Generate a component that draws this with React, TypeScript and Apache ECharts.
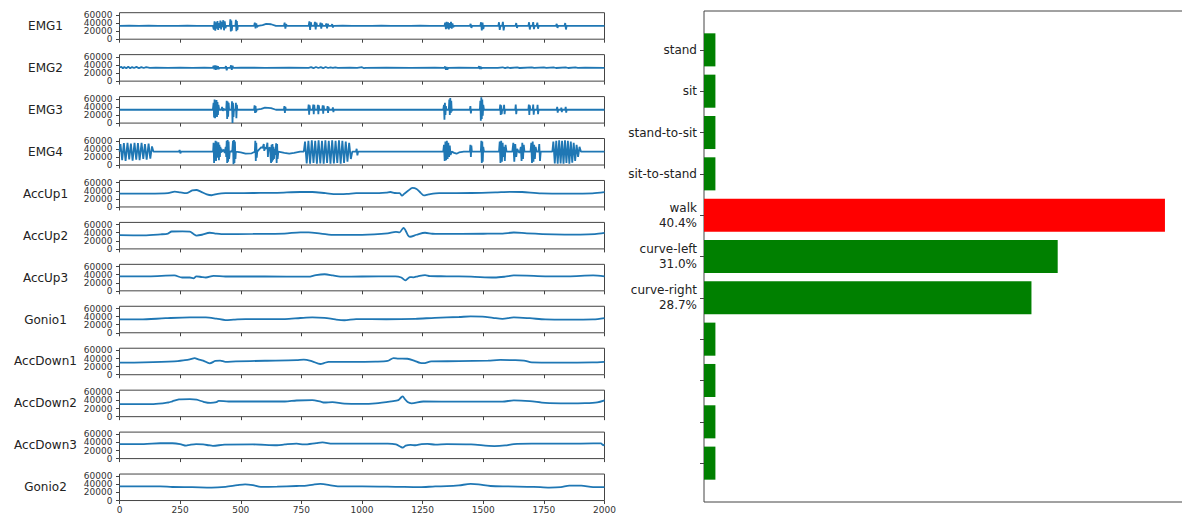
import React, { useEffect, useRef } from "react";
import * as echarts from "echarts";

const channelNames = ["EMG1", "EMG2", "EMG3", "EMG4", "AccUp1", "AccUp2", "AccUp3", "Gonio1", "AccDown1", "AccDown2", "AccDown3", "Gonio2"];
const yTickValues = [0, 20000, 40000, 60000];
const yLabelsA = [0, 40000];
const yLabelsB = [20000, 60000];

const emg1 = [[0,33000],[40,33400],[80,32800],[120,33300],[160,32900],[200,33200],[240,33000],[280,33400],[320,32900],[360,33200],[385,33000],
[389,24000],[392,44000],[395,21000],[398,42000],[401,26000],[404,45000],[407,23000],[410,40000],[413,28000],[416,46000],[419,24000],[422,43000],[425,30000],[428,47000],[431,22000],[434,44000],[437,27000],[440,33000],
[455,33000],[457,49000],[459,19000],[461,46000],[463,21000],[465,33000],
[478,33000],[480,48000],[482,20000],[484,45000],[486,23000],[488,33000],
[555,33000],[558,41000],[561,27000],[564,39000],[567,30000],[571,33000],
[590,35000],[605,38000],[625,37000],[645,33000],
[678,33000],[681,41000],[684,26000],[687,37000],[690,33000],
[780,33000],[783,44000],[786,23000],[789,42000],[792,33000],
[803,33000],[806,43000],[809,24000],[812,41000],[815,33000],
[826,33000],[829,41000],[832,26000],[835,39000],[838,33000],
[850,33000],[853,39000],[856,27000],[859,38000],[862,33000],
[874,33000],[877,37000],[880,29000],[883,33000],
[920,33300],[960,32800],[1000,33200],[1040,33000],[1080,33400],[1120,32900],[1160,33200],[1200,33000],[1240,33300],[1280,32900],[1320,33100],[1340,33000],
[1343,41000],[1346,25000],[1349,43000],[1352,27000],[1355,42000],[1358,24000],[1361,40000],[1364,28000],[1367,43000],[1370,26000],[1373,39000],[1376,30000],[1380,33000],
[1445,33000],[1448,38000],[1451,28000],[1454,33000],
[1488,33000],[1491,42000],[1494,22000],[1497,41000],[1500,25000],[1503,33000],
[1562,33000],[1565,42000],[1568,23000],[1571,33000],[1578,33000],[1581,43000],[1584,22000],[1587,33000],
[1633,33000],[1636,40000],[1639,28000],[1642,33000],
[1686,33000],[1689,42000],[1692,24000],[1695,33000],[1703,33000],[1706,42000],[1709,25000],[1712,33000],[1720,33000],[1723,41000],[1726,26000],[1729,33000],
[1800,33000],[1803,38000],[1806,28000],[1809,33000],
[1835,33000],[1838,40000],[1841,24000],[1844,33000],
[1880,33200],[1920,32900],[1960,33100],[2000,33000]];

const emg2 = [[0,34000],[8,35500],[14,31500],[20,35000],[28,32000],[36,35500],[44,31800],[52,34800],[60,32500],[70,35200],[80,32000],[90,34800],[100,32500],[110,34500],[125,33000],[150,33500],[200,33000],[250,33500],[300,33000],[350,33400],[385,33000],
[388,38000],[391,29000],[394,39000],[397,28000],[400,38000],[403,29000],[406,37000],[409,30000],[413,33000],
[436,33000],[439,37000],[442,27000],[445,33000],
[457,33000],[460,39000],[463,28000],[466,38000],[469,33000],
[500,33200],[600,33000],[700,33300],[780,33000],[790,34500],[800,32000],[810,35000],[820,32500],[830,34500],[840,32000],[850,35000],[860,32500],[870,34000],[880,32800],[890,34200],[900,33000],[950,33300],[980,33000],[1000,34500],[1008,32000],[1016,33000],[1100,33200],[1200,33000],[1300,33300],[1340,33000],
[1343,36000],[1346,28000],[1349,35000],[1352,29000],[1356,33000],
[1400,33200],[1480,33000],[1483,37000],[1486,30000],[1489,36000],[1492,31000],[1496,33000],
[1560,33000],[1580,34300],[1590,32200],[1600,34200],[1610,32500],[1640,33800],[1650,32500],[1700,34000],[1710,32600],[1750,33900],[1760,32600],[1790,34000],[1800,32500],[1840,34200],[1850,32500],[1880,33800],[1890,32700],[1920,33200],[2000,33000]];

const emg3 = [[0,33000],[100,33300],[200,33000],[300,33300],[385,33000],
[388,50000],[390,14000],[392,58000],[394,12000],[396,55000],[398,17000],[400,57000],[402,15000],[404,52000],[406,20000],[408,45000],[411,33000],
[420,33000],[423,40000],[426,30000],[429,36000],[432,33000],
[440,33000],[442,55000],[444,10000],[446,53000],[448,16000],[450,50000],[452,33000],
[462,33000],[464,54000],[466,0],[468,50000],[470,15000],[472,33000],
[478,33000],[480,50000],[482,12000],[484,45000],[486,33000],
[555,33000],[557,44000],[559,25000],[561,42000],[563,27000],[566,33000],
[585,35000],[600,38000],[625,37000],[645,33000],
[678,33000],[680,42000],[682,25000],[684,40000],[686,33000],
[778,33000],[780,46000],[782,21000],[784,44000],[786,33000],
[797,33000],[799,46000],[801,22000],[803,45000],[805,33000],
[816,33000],[818,45000],[820,22000],[822,44000],[824,33000],
[836,33000],[838,44000],[840,23000],[842,43000],[844,33000],
[856,33000],[858,42000],[860,25000],[862,40000],[864,33000],
[878,33000],[880,39000],[882,27000],[884,33000],
[950,33300],[1050,33000],[1150,33300],[1250,33000],[1335,33000],
[1338,45000],[1340,8000],[1342,50000],[1344,20000],[1346,42000],[1348,33000],
[1358,33000],[1360,58000],[1362,20000],[1364,62000],[1366,25000],[1368,55000],[1370,30000],[1373,33000],
[1445,33000],[1447,42000],[1449,24000],[1451,33000],
[1486,33000],[1488,55000],[1490,6000],[1492,64000],[1494,10000],[1496,58000],[1498,18000],[1500,45000],[1503,33000],
[1568,33000],[1570,46000],[1572,20000],[1574,44000],[1576,22000],[1578,33000],[1584,33000],[1586,45000],[1588,22000],[1590,33000],
[1632,33000],[1634,46000],[1636,22000],[1638,33000],
[1686,33000],[1688,46000],[1690,20000],[1692,44000],[1694,33000],[1704,33000],[1706,46000],[1708,21000],[1710,33000],[1722,33000],[1724,45000],[1726,22000],[1728,33000],
[1803,33000],[1805,40000],[1807,26000],[1809,33000],[1820,33000],[1822,38000],[1824,27000],[1826,33000],[1838,33000],[1840,40000],[1842,26000],[1844,33000],
[1900,33200],[2000,33000]];

const emg4 = [[0,33000],[4,52000],[11,12000],[18,54000],[25,10000],[33,55000],[40,14000],[47,53000],[54,11000],[62,55000],[69,13000],[76,54000],[83,12000],[91,55000],[98,15000],[105,52000],[112,13000],[120,53000],[127,16000],[134,46000],[140,33000],
[200,33200],[245,33000],[248,37000],[251,29000],[254,33000],[300,33300],[380,33000],
[386,33000],[388,55000],[390,5000],[392,48000],[394,15000],[396,60000],[398,10000],[400,58000],[402,25000],[404,42000],[406,18000],[408,56000],[410,12000],[412,50000],[414,20000],[416,45000],[418,30000],[420,40000],[423,33000],[426,35000],[430,38000],[434,30000],[438,45000],[440,20000],[442,60000],[444,5000],[446,62000],[448,8000],[450,58000],[452,15000],[455,33000],[460,34000],[465,33000],[468,60000],[470,2000],[472,62000],[474,5000],[476,58000],[478,15000],[480,33000],
[500,31000],[520,28000],[545,29000],[558,33000],[560,60000],[562,10000],[564,55000],[566,18000],[568,33000],[575,38000],[585,44000],[590,42000],[595,52000],[597,35000],[600,44000],[605,40000],[610,55000],[612,20000],[614,40000],[620,44000],[625,5000],[627,50000],[629,8000],[631,52000],[633,12000],[635,45000],[637,15000],[640,40000],[643,25000],[646,54000],[648,5000],[650,52000],[652,15000],[655,33000],
[680,30000],[700,28000],[720,30000],[745,33000],
[760,33000],[765,58000],[772,4000],[779,60000],[786,3000],[793,61000],[800,5000],[807,60000],[814,3000],[821,61000],[828,4000],[835,60000],[842,3000],[849,61000],[856,5000],[863,60000],[870,3000],[877,61000],[884,4000],[891,60000],[898,5000],[905,61000],[912,3000],[919,60000],[926,5000],[933,58000],[940,8000],[947,55000],[954,15000],[960,33000],[975,33000],[978,40000],[981,24000],[984,33000],
[1050,33200],[1150,33000],[1250,33300],[1335,33000],
[1338,50000],[1341,10000],[1344,58000],[1347,12000],[1350,60000],[1353,15000],[1356,55000],[1359,20000],[1362,48000],[1365,25000],[1370,33000],[1380,30000],[1390,28000],[1400,31000],[1420,33000],
[1445,33000],[1447,50000],[1449,20000],[1451,48000],[1453,33000],
[1490,33000],[1492,60000],[1494,5000],[1496,58000],[1498,8000],[1500,45000],[1503,33000],
[1565,33000],[1568,58000],[1571,5000],[1574,60000],[1577,8000],[1580,55000],[1583,20000],[1586,45000],[1589,10000],[1592,50000],[1596,33000],
[1620,33000],[1624,55000],[1628,8000],[1632,52000],[1636,20000],[1640,40000],[1645,33000],[1650,30000],[1655,45000],[1658,10000],[1661,55000],[1664,15000],[1667,50000],[1670,33000],
[1695,33000],[1698,55000],[1701,5000],[1704,58000],[1707,8000],[1710,50000],[1713,15000],[1716,45000],[1720,33000],[1728,33000],[1731,52000],[1734,10000],[1737,33000],
[1785,33000],[1789,58000],[1795,4000],[1801,60000],[1807,3000],[1813,61000],[1819,4000],[1825,60000],[1831,3000],[1837,61000],[1843,5000],[1849,60000],[1855,3000],[1861,58000],[1867,6000],[1873,55000],[1879,10000],[1885,50000],[1891,20000],[1897,45000],[1903,33000],
[1950,33200],[2000,33000]];

const accUp1 = [[0,33000],[120,33000],[200,34000],[228,38000],[250,36000],[275,34000],[300,41000],[317,42000],[335,38000],[360,31000],[380,29000],[405,32500],[437,34000],[550,34500],[650,35000],[746,37000],[795,37000],[850,34000],[895,31500],[940,32500],[976,34000],[1050,34000],[1100,35500],[1117,37000],[1135,34500],[1155,34000],[1165,28000],[1175,33000],[1190,40000],[1208,47000],[1225,44500],[1242,35000],[1255,28500],[1275,31000],[1318,34000],[1450,34500],[1550,36000],[1610,37500],[1660,37000],[1740,33500],[1850,33000],[1950,33500],[2000,36500]];

const accUp2 = [[0,34000],[100,33500],[170,36000],[200,38000],[215,43000],[260,43500],[290,42500],[305,37000],[318,33000],[340,35000],[372,40000],[395,38000],[420,36500],[550,37000],[680,38000],[746,41000],[780,41000],[830,38000],[890,34500],[960,34500],[1050,36000],[1106,38500],[1140,42000],[1155,41000],[1165,48000],[1172,52000],[1180,45000],[1190,33000],[1198,30000],[1225,35000],[1260,40000],[1290,37500],[1320,37000],[1500,37500],[1580,38000],[1626,40500],[1680,38500],[1790,36000],[1900,35500],[1960,36500],[2000,39500]];

const accUp3 = [[0,36000],[120,36000],[226,38000],[258,33000],[290,33000],[305,31000],[317,36000],[340,34000],[356,33000],[388,37000],[437,35500],[600,35500],[779,35000],[810,39000],[846,41000],[880,38000],[910,35000],[1000,35500],[1138,36000],[1162,33000],[1179,26000],[1188,30000],[1198,34000],[1212,33500],[1230,36000],[1260,39000],[1280,36500],[1350,36000],[1450,35000],[1546,33000],[1590,35000],[1626,38000],[1680,37500],[1756,36000],[1850,36000],[1953,38000],[2000,36000]];

const gonio1 = [[0,33000],[85,33000],[190,36000],[290,38000],[356,38000],[400,35000],[437,31500],[470,32500],[520,34000],[682,34000],[746,36500],[795,38000],[845,37000],[890,33000],[927,31000],[976,34000],[1100,33500],[1220,34500],[1300,37000],[1400,39000],[1448,40500],[1497,40000],[1540,37000],[1579,34500],[1626,38000],[1692,36000],[1756,33000],[1850,32500],[1953,33000],[2000,36500]];

const accDown1 = [[0,30000],[100,30500],[226,33000],[270,36000],[290,38000],[310,41000],[325,38000],[345,35000],[372,28000],[395,34000],[415,35000],[437,32000],[480,33000],[600,34500],[730,36000],[760,37500],[795,33000],[828,26500],[845,29000],[862,32000],[950,32000],[1056,32500],[1106,34000],[1130,41000],[1150,40000],[1187,39500],[1215,35000],[1240,29000],[1253,28500],[1286,33000],[1400,33500],[1520,35000],[1570,36500],[1620,36000],[1668,35000],[1700,30500],[1800,30000],[1950,30500],[2000,32000]];

const accDown2 = [[0,31000],[140,31000],[201,35000],[218,38000],[245,42500],[290,43500],[318,42000],[345,37000],[375,34000],[400,36000],[409,39000],[450,37500],[682,37500],[730,40000],[795,41000],[830,37000],[845,35000],[878,36000],[927,32000],[1000,31500],[1056,33000],[1122,38000],[1150,41000],[1162,48000],[1168,50000],[1176,44000],[1188,36000],[1204,33000],[1253,37500],[1400,37000],[1579,37000],[1626,40500],[1692,38500],[1756,34000],[1850,33000],[1920,33500],[1970,35500],[2000,40500]];

const accDown3 = [[0,36000],[100,36000],[168,38000],[218,38000],[250,36000],[275,32000],[290,34000],[316,36000],[345,35000],[368,33000],[385,31500],[433,34500],[550,35000],[650,33000],[682,35000],[730,37000],[760,35000],[812,38500],[837,40000],[878,37000],[1000,37000],[1106,37000],[1140,35000],[1160,29000],[1168,27000],[1180,32000],[1200,34000],[1220,33000],[1245,36000],[1270,36500],[1302,34500],[1350,36000],[1450,35000],[1546,31000],[1590,32500],[1626,36000],[1700,37000],[1850,37000],[1953,37500],[1985,37500],[1995,33000],[2000,35000]];

const gonio2 = [[0,35000],[168,35000],[218,33500],[300,33000],[380,32000],[437,34000],[486,38000],[518,40000],[550,38000],[583,34000],[650,34500],[730,36000],[763,36500],[800,39500],[828,41000],[878,37000],[910,35000],[1000,35000],[1138,34000],[1237,33000],[1302,35000],[1350,35500],[1400,37500],[1448,41000],[1480,40000],[1530,36000],[1600,35000],[1708,34000],[1773,32000],[1820,33000],[1855,37000],[1904,37000],[1953,33000],[2000,33000]];

const channelData = [emg1, emg2, emg3, emg4, accUp1, accUp2, accUp3, gonio1, accDown1, accDown2, accDown3, gonio2];
const smoothChannels = [false, false, false, false, true, true, true, true, true, true, true, true];

const activityLabels = ["stand", "sit", "stand-to-sit", "sit-to-stand", "walk\n40.4%", "curve-left\n31.0%", "curve-right\n28.7%", "", "", "", ""];
const activityValues = [1, 1, 1, 1, 40.4, 31.0, 28.7, 1, 1, 1, 1];
const activityColors = ["#008000", "#008000", "#008000", "#008000", "#ff0000", "#008000", "#008000", "#008000", "#008000", "#008000", "#008000"];

const FONT = "DejaVu Sans";

export default function App() {
  const ref = useRef<HTMLDivElement>(null);
  useEffect(() => {
    if (!ref.current) return;
    const chart = echarts.init(ref.current, null, { renderer: "svg" });
    const n = channelNames.length;
    const grids: any[] = [];
    const xAxes: any[] = [];
    const yAxes: any[] = [];
    const series: any[] = [];
    const tickLabelStyle = { fontSize: 9, color: "#333", margin: 7, fontFamily: FONT, formatter: (v: number) => String(v), showMinLabel: true, showMaxLabel: true };
    for (let i = 0; i < n; i++) {
      grids.push({ left: 119.5, top: 12.7 + i * 41.94, width: 485, height: 26.5, show: true, borderColor: "#444", borderWidth: 1 });
      xAxes.push({
        gridIndex: i, type: "value", min: 0, max: 2000, interval: 250,
        splitLine: { show: false }, axisLine: { show: false },
        axisTick: { show: true, length: 3.5, lineStyle: { color: "#444" } },
        axisLabel: { show: i === n - 1, fontSize: 9, color: "#333", margin: 5, fontFamily: FONT, formatter: (v: number) => String(v), showMinLabel: true, showMaxLabel: true },
      });
      yAxes.push({
        gridIndex: i, type: "value", min: 0, max: 65535, position: "left",
        name: channelNames[i], nameLocation: "middle", nameRotate: 0, nameGap: 74,
        nameTextStyle: { fontSize: 12, color: "#222", align: "center", verticalAlign: "middle", padding: [0, 0, 7, 0], fontFamily: FONT },
        splitLine: { show: false }, axisLine: { show: false },
        axisTick: { show: true, length: 3.5, customValues: yTickValues, lineStyle: { color: "#444" } },
        axisLabel: { ...tickLabelStyle, customValues: yLabelsA },
      });
      yAxes.push({
        gridIndex: i, type: "value", min: 0, max: 65535, position: "left", offset: 0,
        splitLine: { show: false }, axisLine: { show: false }, axisTick: { show: false },
        axisLabel: { ...tickLabelStyle, customValues: yLabelsB },
      });
      series.push({
        type: "line", xAxisIndex: i, yAxisIndex: 2 * i, data: channelData[i], showSymbol: false,
        smooth: smoothChannels[i] ? 0.3 : false,
        lineStyle: { color: "#1f77b4", width: 1.8 }, itemStyle: { color: "#1f77b4" },
      });
    }
    grids.push({ left: 704, top: 11, width: 484, height: 491, show: true, borderColor: "#444", borderWidth: 1 });
    const barIdx = activityLabels.map((_, i) => i);
    xAxes.push({ gridIndex: n, type: "value", min: 0, max: 42.42, show: false });
    yAxes.push({
      gridIndex: n, type: "value", min: -0.94, max: 10.94, inverse: true,
      splitLine: { show: false }, axisLine: { show: false },
      axisTick: { show: true, length: 4, customValues: barIdx, lineStyle: { color: "#444" } },
      axisLabel: { customValues: barIdx, formatter: (v: number) => activityLabels[Math.round(v)] ?? "", fontSize: 12, color: "#222", margin: 7, lineHeight: 15, align: "right", fontFamily: FONT, showMinLabel: true, showMaxLabel: true },
    });
    series.push({
      type: "custom", xAxisIndex: n, yAxisIndex: 2 * n,
      data: activityValues.map((v, i) => [v, i]),
      encode: { x: 0, y: 1 },
      renderItem: (params: any, api: any) => {
        const v = api.value(0);
        const idx = api.value(1);
        const start = api.coord([0, idx]);
        const end = api.coord([v, idx]);
        const h = Math.abs(api.size([0, 0.8])[1]);
        return {
          type: "rect",
          shape: { x: start[0], y: start[1] - h / 2, width: end[0] - start[0], height: h },
          style: { fill: activityColors[params.dataIndex] },
        };
      },
    });
    chart.setOption({
      animation: false,
      backgroundColor: "#ffffff",
      textStyle: { fontFamily: FONT },
      grid: grids,
      xAxis: xAxes,
      yAxis: yAxes,
      series,
    });
    return () => chart.dispose();
  }, []);
  return <div ref={ref} style={{ position: "fixed", left: 0, top: 0, width: 1200, height: 516 }} />;
}
